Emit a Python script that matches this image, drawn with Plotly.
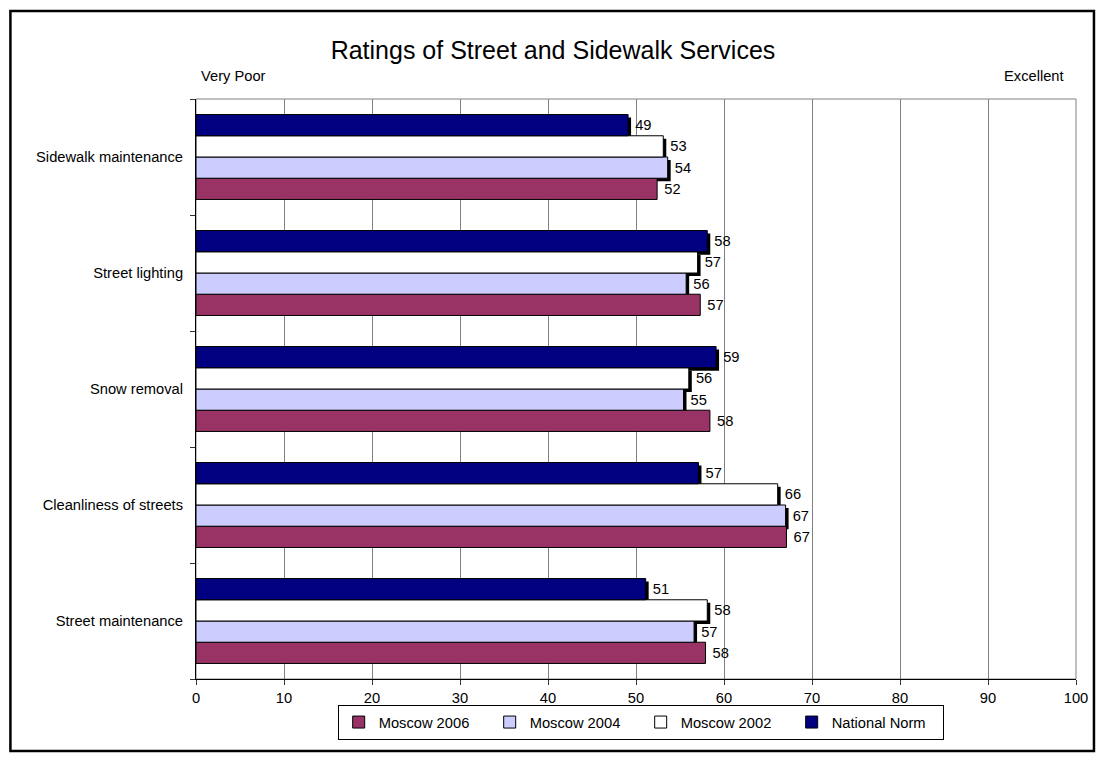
import plotly.graph_objects as go

# ---- data ----
categories = ["Street maintenance", "Cleanliness of streets", "Snow removal",
              "Street lighting", "Sidewalk maintenance"]
moscow_2006 = [57.9, 67.1, 58.4, 57.3, 52.4]
moscow_2004 = [56.6, 67.0, 55.4, 55.7, 53.6]
moscow_2002 = [58.1, 66.1, 56.0, 57.0, 53.1]
national_norm = [51.1, 57.1, 59.1, 58.1, 49.1]
series_names = ["Moscow 2006", "Moscow 2004", "Moscow 2002", "National Norm"]
x_ticks = [0, 10, 20, 30, 40, 50, 60, 70, 80, 90, 100]

# ---- styling ----
FONT = "Arial, Liberation Sans, sans-serif"
FS = 14.7
colors = ["#993366", "#CCCCFF", "#FFFFFF", "#000080"]
has_shadow = [False, True, True, True]
W, H = 1100, 760
L, R, T, B = 196, 22, 99, 81
plot_w = W - L - R
plot_h = H - T - B
bar_w = 0.183
shadow_dx = 3 / plot_w * 100      # 3 px in x units
shadow_dy = 3 / (plot_h / 5)      # 3 px in category units

values = [moscow_2006, moscow_2004, moscow_2002, national_norm]

fig = go.Figure()

# shadows first
for i, (name, vals) in enumerate(zip(series_names, values)):
    if not has_shadow[i]:
        continue
    fig.add_trace(go.Bar(
        y=categories, x=vals, orientation="h", base=shadow_dx,
        width=bar_w, offset=(i - 2) * bar_w - shadow_dy,
        marker=dict(color="black", line=dict(width=0)),
        showlegend=False, hoverinfo="skip"))

# main bars
for i, (name, vals) in enumerate(zip(series_names, values)):
    fig.add_trace(go.Bar(
        y=categories, x=vals, orientation="h", name=name,
        width=bar_w, offset=(i - 2) * bar_w,
        marker=dict(color=colors[i], line=dict(color="black", width=1)),
        texttemplate="\u00a0%{x:.0f}", textposition="outside",
        textfont=dict(family=FONT, size=FS, color="black"),
        constraintext="none", cliponaxis=False))

def px_to_paper_x(px):
    return (px - L) / plot_w

def px_to_paper_y(py):
    return (H - B - py) / plot_h

fig.update_layout(
    width=W, height=H, autosize=False,
    margin=dict(l=L, r=R, t=T, b=B),
    barmode="overlay",
    paper_bgcolor="white", plot_bgcolor="white",
    font=dict(family=FONT, size=FS, color="black"),
    title=dict(text="Ratings of Street and Sidewalk Services",
               font=dict(family=FONT, size=25, color="black"),
               xref="container", x=553 / W, xanchor="center",
               yref="container", y=1 - 50 / H, yanchor="middle"),
    xaxis=dict(range=[0, 100], tickvals=x_ticks, showgrid=True,
               gridcolor="#808080", gridwidth=1, zeroline=False,
               showline=True, linecolor="black", linewidth=1,
               ticks="outside", ticklen=5, tickcolor="#333333",
               tickfont=dict(size=FS)),
    yaxis=dict(type="category", categoryorder="array", categoryarray=categories,
               range=[-0.5, 4.5], showgrid=False, zeroline=False,
               showline=True, linecolor="black", linewidth=1,
               ticks="outside", tickson="boundaries", ticklen=5,
               ticklabelstandoff=9,
               tickcolor="#333333", tickfont=dict(size=FS)),
    legend=dict(orientation="h", x=px_to_paper_x(338), xanchor="left",
                y=px_to_paper_y(705), yanchor="top",
                bordercolor="black", borderwidth=1, itemwidth=30,
                entrywidth=106,
                font=dict(size=FS), traceorder="normal"),
    showlegend=True,
)

# plot-area border (gray) and outer chart frame (black)
fig.add_shape(type="rect", xref="paper", yref="paper", x0=0, x1=1, y0=0, y1=1,
              line=dict(color="#808080", width=1), layer="below")
fig.add_shape(type="rect", xref="paper", yref="paper",
              x0=px_to_paper_x(10), x1=px_to_paper_x(1096),
              y0=px_to_paper_y(751), y1=px_to_paper_y(11),
              line=dict(color="black", width=2.5))

fig.add_annotation(text="Very Poor", xref="paper", yref="paper",
                   x=px_to_paper_x(199), xanchor="left", y=px_to_paper_y(76),
                   yanchor="middle", showarrow=False, font=dict(size=FS))
fig.add_annotation(text="Excellent", xref="paper", yref="paper",
                   x=px_to_paper_x(1068), xanchor="right", y=px_to_paper_y(76),
                   yanchor="middle", showarrow=False, font=dict(size=FS))

fig.write_html("out.html", config={"displayModeBar": False},
               post_script="document.body.style.margin='0';")
